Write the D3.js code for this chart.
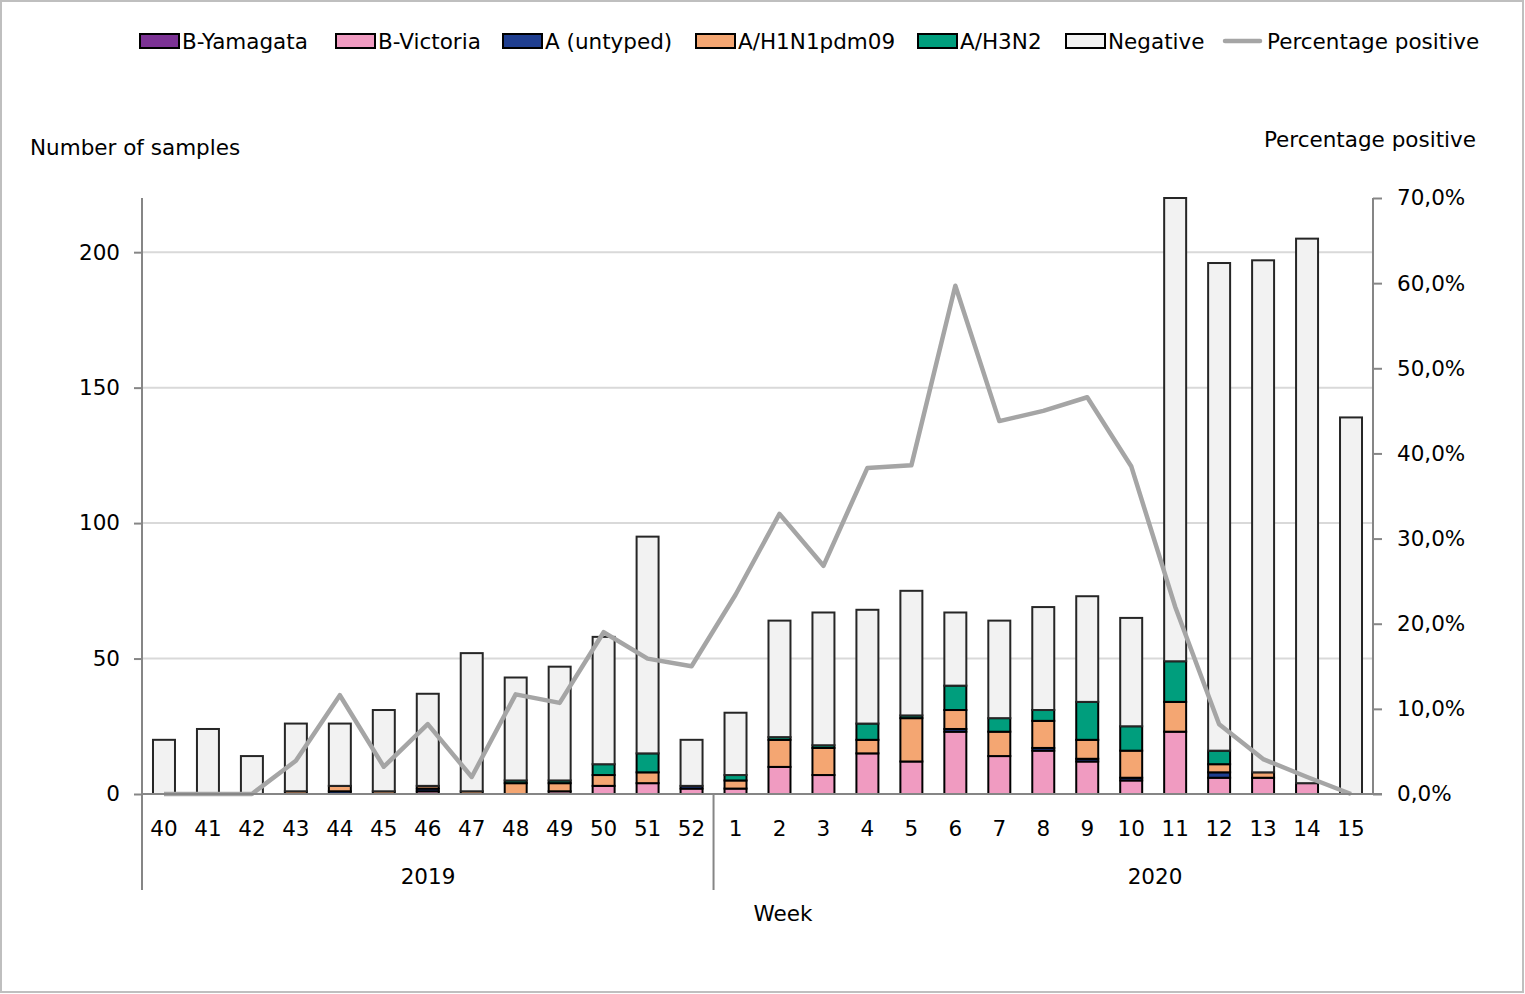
<!DOCTYPE html>
<html>
<head>
<meta charset="utf-8">
<script src="https://cdn.jsdelivr.net/npm/d3@7"></script>
<style>
	body { margin: 0; background: #fff; }
	text { font-family: "DejaVu Sans", Verdana, sans-serif; fill: #000; }
</style>
</head>
<body>
<script>

// Categories: week numbers and the season year they belong to
var weeks = ["40", "41", "42", "43", "44", "45", "46", "47", "48", "49", "50", "51", "52",
	"1", "2", "3", "4", "5", "6", "7", "8", "9", "10", "11", "12", "13", "14", "15"];
var years = ["2019", "2019", "2019", "2019", "2019", "2019", "2019", "2019", "2019", "2019", "2019", "2019", "2019",
	"2020", "2020", "2020", "2020", "2020", "2020", "2020", "2020", "2020", "2020", "2020", "2020", "2020", "2020", "2020"];

// Number of samples per type
var bYamagata = [0, 0, 0, 0, 0, 0, 0, 0, 0, 0, 0, 0, 0,
	0, 0, 0, 0, 0, 0, 0, 0, 0, 0, 0, 0, 0, 0, 0];
var bVictoria = [0, 0, 0, 0, 0, 0, 1, 0, 0, 1, 3, 4, 2,
	2, 10, 7, 15, 12, 23, 14, 16, 12, 5, 23, 6, 6, 4, 0];
var aUntyped = [0, 0, 0, 0, 1, 0, 1, 0, 0, 0, 0, 0, 1,
	0, 0, 0, 0, 0, 1, 0, 1, 1, 1, 0, 2, 0, 0, 0];
var aH1N1 = [0, 0, 0, 1, 2, 1, 1, 1, 4, 3, 4, 4, 0,
	3, 10, 10, 5, 16, 7, 9, 10, 7, 10, 11, 3, 2, 0, 0];
var aH3N2 = [0, 0, 0, 0, 0, 0, 0, 0, 1, 1, 4, 7, 0,
	2, 1, 1, 6, 1, 9, 5, 4, 14, 9, 15, 5, 0, 0, 0];
var negative = [20, 24, 14, 25, 23, 30, 34, 51, 38, 42, 47, 80, 17,
	23, 43, 49, 42, 46, 27, 36, 38, 39, 40, 171, 180, 189, 201, 139];

// Percentage positive (%)
var pctPositive = [0, 0, 0, 3.9, 11.6, 3.2, 8.2, 2.0, 11.7, 10.7, 19.0, 15.9, 15.0,
	23.4, 32.9, 26.8, 38.3, 38.6, 59.7, 43.8, 45.0, 46.6, 38.5, 22.0, 8.2, 4.1, 2.0, 0];

// Tick values
var leftTicks = [0, 50, 100, 150, 200];
var rightTicks = [0, 0.1, 0.2, 0.3, 0.4, 0.5, 0.6, 0.7];

var seriesNames = ["B-Yamagata", "B-Victoria", "A (untyped)", "A/H1N1pdm09", "A/H3N2", "Negative"];
var seriesValues = [bYamagata, bVictoria, aUntyped, aH1N1, aH3N2, negative];
var seriesColors = ["#7b3294", "#f09bc1", "#1f3e8f", "#f4a672", "#009e7d", "#f2f2f2"];
var lineName = "Percentage positive";

var width = 1525,
	height = 994;

var plot = {left: 142, right: 1373, top: 198, bottom: 794};

var svg = d3.select("body").append("svg")
	.attr("width", width)
	.attr("height", height);

// outer chart border
svg.append("rect")
	.attr("x", 1).attr("y", 1)
	.attr("width", width - 3).attr("height", height - 3)
	.attr("fill", "#fff")
	.attr("stroke", "#bfbfbf")
	.attr("stroke-width", 2);

// build rows for the stack
var keys = weeks.map(function(w, i) { return years[i] + "-" + w; });
var rows = keys.map(function(k, i) {
	var r = {key: k};
	seriesNames.forEach(function(s, j) { r[s] = seriesValues[j][i]; });
	return r;
});

var x = d3.scaleBand()
	.domain(keys)
	.range([plot.left, plot.right])
	.paddingInner(0.5)
	.paddingOuter(0.25);

var y = d3.scaleLinear()
	.domain([0, 220])
	.range([plot.bottom, plot.top]);

var y2 = d3.scaleLinear()
	.domain([0, 0.7])
	.range([plot.bottom, plot.top]);

// gridlines
svg.append("g")
	.selectAll("line")
	.data(leftTicks.filter(function(d) { return d > 0; }))
	.enter()
	.append("line")
	.attr("x1", plot.left)
	.attr("x2", plot.right)
	.attr("y1", function(d) { return y(d); })
	.attr("y2", function(d) { return y(d); })
	.attr("stroke", "#d9d9d9")
	.attr("stroke-width", 2);

// stacked bars
var stack = d3.stack().keys(seriesNames);
var stacked = stack(rows);

svg.append("g")
	.selectAll("g")
	.data(stacked)
	.enter()
	.append("g")
	.attr("fill", function(d, i) { return seriesColors[i]; })
	.attr("stroke", function(d, i) { return i === 5 ? "#262626" : "#000"; })
	.attr("stroke-width", 2)
	.selectAll("rect")
	.data(function(d) { return d.filter(function(p) { return p[1] > p[0]; }); })
	.enter()
	.append("rect")
	.attr("x", function(d) { return x(d.data.key); })
	.attr("width", x.bandwidth())
	.attr("y", function(d) { return y(d[1]); })
	.attr("height", function(d) { return y(d[0]) - y(d[1]); });

// percentage line
var line = d3.line()
	.x(function(d, i) { return x(keys[i]) + x.bandwidth() / 2; })
	.y(function(d) { return y2(d / 100); });

svg.append("path")
	.datum(pctPositive)
	.attr("fill", "none")
	.attr("stroke", "#a5a5a5")
	.attr("stroke-width", 4.5)
	.attr("stroke-linejoin", "round")
	.attr("d", line);

// axes
var axisColor = "#868686";

var leftAxis = svg.append("g")
	.attr("transform", "translate(" + plot.left + ",0)")
	.call(d3.axisLeft(y).tickValues(leftTicks).tickSize(8).tickPadding(14).tickFormat(d3.format("d")));

var rightAxis = svg.append("g")
	.attr("transform", "translate(" + plot.right + ",0)")
	.call(d3.axisRight(y2).tickValues(rightTicks).tickSize(9).tickPadding(15)
		.tickFormat(function(d) { return (d * 100).toFixed(1).replace(".", ",") + "%"; }));

[leftAxis, rightAxis].forEach(function(a) {
	a.select(".domain").attr("stroke", axisColor).attr("stroke-width", 2)
		.attr("d", "M0," + plot.top + "V" + plot.bottom);
	a.selectAll(".tick line").attr("stroke", axisColor).attr("stroke-width", 2);
	a.selectAll(".tick text").attr("font-size", "21.5px").attr("font-family", "DejaVu Sans").attr("fill", "#000");
});

// category axis
svg.append("line")
	.attr("x1", plot.left).attr("x2", plot.right + 9)
	.attr("y1", plot.bottom).attr("y2", plot.bottom)
	.attr("stroke", axisColor).attr("stroke-width", 2);

svg.append("g")
	.selectAll("text")
	.data(weeks)
	.enter()
	.append("text")
	.attr("x", function(d, i) { return x(keys[i]) + x.bandwidth() / 2; })
	.attr("y", 836)
	.attr("text-anchor", "middle")
	.attr("font-size", "21.5px")
	.text(function(d) { return d; });

// year groups with separators
var yearGroups = [];
years.forEach(function(yr, i) {
	var last = yearGroups[yearGroups.length - 1];
	if (!last || last.year !== yr) {
		yearGroups.push({year: yr, first: i, last: i});
	} else {
		last.last = i;
	}
});

// the year label sits at the centre of its group, 2020 label as placed in the original
var yearLabelX = [428, 1155];

var step = x.step();
yearGroups.forEach(function(g, i) {
	var x0 = plot.left + g.first * step;
	svg.append("line")
		.attr("x1", x0).attr("x2", x0)
		.attr("y1", plot.bottom).attr("y2", 890)
		.attr("stroke", axisColor).attr("stroke-width", 2);
	svg.append("text")
		.attr("x", yearLabelX[i])
		.attr("y", 884)
		.attr("text-anchor", "middle")
		.attr("font-size", "21.5px")
		.text(g.year);
});

// axis titles
svg.append("text")
	.attr("x", 30).attr("y", 155)
	.attr("font-size", "21.5px")
	.text("Number of samples");

svg.append("text")
	.attr("x", 1476).attr("y", 147)
	.attr("text-anchor", "end")
	.attr("font-size", "21.5px")
	.text("Percentage positive");

svg.append("text")
	.attr("x", 783).attr("y", 921)
	.attr("text-anchor", "middle")
	.attr("font-size", "21.5px")
	.text("Week");

// legend
var legendX = [140, 336, 503, 696, 918, 1066, 1222];
var legend = svg.append("g");

seriesNames.forEach(function(s, i) {
	legend.append("rect")
		.attr("x", legendX[i]).attr("y", 34)
		.attr("width", 39).attr("height", 14)
		.attr("fill", seriesColors[i])
		.attr("stroke", "#000")
		.attr("stroke-width", 2);
	legend.append("text")
		.attr("x", legendX[i] + 42).attr("y", 49)
		.attr("font-size", "21.5px")
		.text(s);
});

legend.append("line")
	.attr("x1", legendX[6] + 3).attr("x2", legendX[6] + 38)
	.attr("y1", 41).attr("y2", 41)
	.attr("stroke", "#a5a5a5")
	.attr("stroke-width", 4.5)
	.attr("stroke-linecap", "round");
legend.append("text")
	.attr("x", legendX[6] + 45).attr("y", 49)
	.attr("font-size", "21.5px")
	.text(lineName);

</script>
</body>
</html>
